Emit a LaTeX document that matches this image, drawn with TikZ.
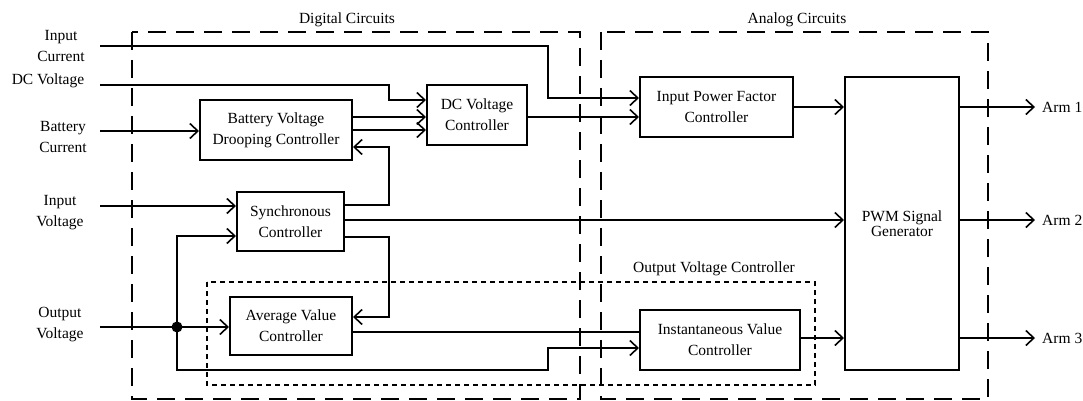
\documentclass[tikz,border=0pt]{standalone}
\usepackage{fontspec}
\setmainfont{Liberation Serif}
\usetikzlibrary{arrows.meta}
\begin{document}
\begin{tikzpicture}[x=1pt,y=-1pt,
  txt/.style={font=\fontsize{15.5}{21}\selectfont, align=center, inner sep=0pt},
  blk/.style={draw, line width=2pt, txt},
  sig/.style={line width=1.6pt},
  tip/.style={-{Straight Barb[length=8pt,width=15pt,line width=1.6pt]}},
  region/.style={line width=1.5pt, dash pattern=on 18pt off 10pt},
  subregion/.style={line width=1.5pt, dash pattern=on 5pt off 4pt}]
\useasboundingbox (0,0) rectangle (1083,401);

% regions
\draw[region] (132,32) rectangle (580,399);
\draw[region] (601,32) rectangle (988,399);
\draw[subregion] (207,282) rectangle (815,385);
\node[txt] (lDig) at (347,20) {Digital Circuits};
\node[txt] (lAna) at (797,20) {Analog Circuits};
\node[txt] (lOVC) at (714,269) {Output Voltage Controller};

% blocks
\node[blk, minimum width=152pt, minimum height=60pt] (bvdc) at (276,130) {Battery Voltage\\Drooping Controller};
\node[blk, minimum width=100pt, minimum height=60pt] (dcvc) at (477,115) {DC Voltage\\Controller};
\node[blk, minimum width=153pt, minimum height=60pt] (ipfc) at (716.5,107) {Input Power Factor\\Controller};
\node[blk, minimum width=107pt, minimum height=59pt] (sync) at (290.5,221.5) {Synchronous\\Controller};
\node[blk, minimum width=122pt, minimum height=58pt] (avc) at (291,326) {Average Value\\Controller};
\node[blk, minimum width=160pt, minimum height=60pt] (ivc) at (720,340) {Instantaneous Value\\Controller};
\node[blk, minimum width=114pt, minimum height=293pt, font=\fontsize{15.5}{15}\selectfont] (pwm) at (902,223.5) {PWM Signal\\Generator};

% left labels
\node[txt] (tIC) at (61,46) {Input\\Current};
\node[txt] (tDC) at (48,81) {DC Voltage};
\node[txt] (tBC) at (63,137) {Battery\\Current};
\node[txt] (tIV) at (60,213) {Input\\Voltage};
\node[txt] (tOV) at (60,325) {Output\\Voltage};

% input start coordinates
\coordinate (inI) at (100,46);
\coordinate (inD) at (100,85);
\coordinate (inB) at (100,131);
\coordinate (inV) at (100,206);
\coordinate (inO) at (100,327);
\coordinate (jn) at (177,327);

% arm outputs
\coordinate (a1) at (1035,107);
\coordinate (a2) at (1035,220);
\coordinate (a3) at (1035,338);
\node[txt, anchor=west] (tA1) at (1042,107) {Arm 1};
\node[txt, anchor=west] (tA2) at (1042,220) {Arm 2};
\node[txt, anchor=west] (tA3) at (1042,338) {Arm 3};

% connectors
\draw[sig,tip] (inI) -| (548,98) -- (ipfc.west |- 0,98);
\draw[sig,tip] (inD) -| (389,100) -- (dcvc.west |- 0,100);
\draw[sig,tip] (inB) -- (bvdc.west |- 0,131);
\draw[sig,tip] (bvdc.east |- 0,117) -- (dcvc.west |- 0,117);
\draw[sig,tip] (bvdc.east |- 0,130) -- (dcvc.west |- 0,130);
\draw[sig,tip] (sync.east |- 0,205) -| (389,147) -- (bvdc.east |- 0,147);
\draw[sig,tip] (dcvc.east |- 0,117) -- (ipfc.west |- 0,117);
\draw[sig,tip] (ipfc.east |- 0,107) -- (pwm.west |- 0,107);
\draw[sig,tip] (inV) -- (sync.west |- 0,206);
\draw[sig] (inO) -- (jn);
\draw[sig,tip] (jn) -- (avc.west |- 0,327);
\draw[sig,tip] (jn) |- (sync.west |- 0,236);
\draw[sig,tip] (jn) |- (548,370) |- (ivc.west |- 0,348);
\fill (jn) circle (5.5pt);
\draw[sig,tip] (sync.east |- 0,237) -| (389,317) -- (avc.east |- 0,317);
\draw[sig,tip] (sync.east |- 0,220) -- (pwm.west |- 0,220);
\draw[sig] (avc.east |- 0,332) -- (ivc.west |- 0,332);
\draw[sig,tip] (ivc.east |- 0,338) -- (pwm.west |- 0,338);
\draw[sig,tip] (pwm.east |- a1) -- (a1);
\draw[sig,tip] (pwm.east |- a2) -- (a2);
\draw[sig,tip] (pwm.east |- a3) -- (a3);
\end{tikzpicture}
\end{document}
